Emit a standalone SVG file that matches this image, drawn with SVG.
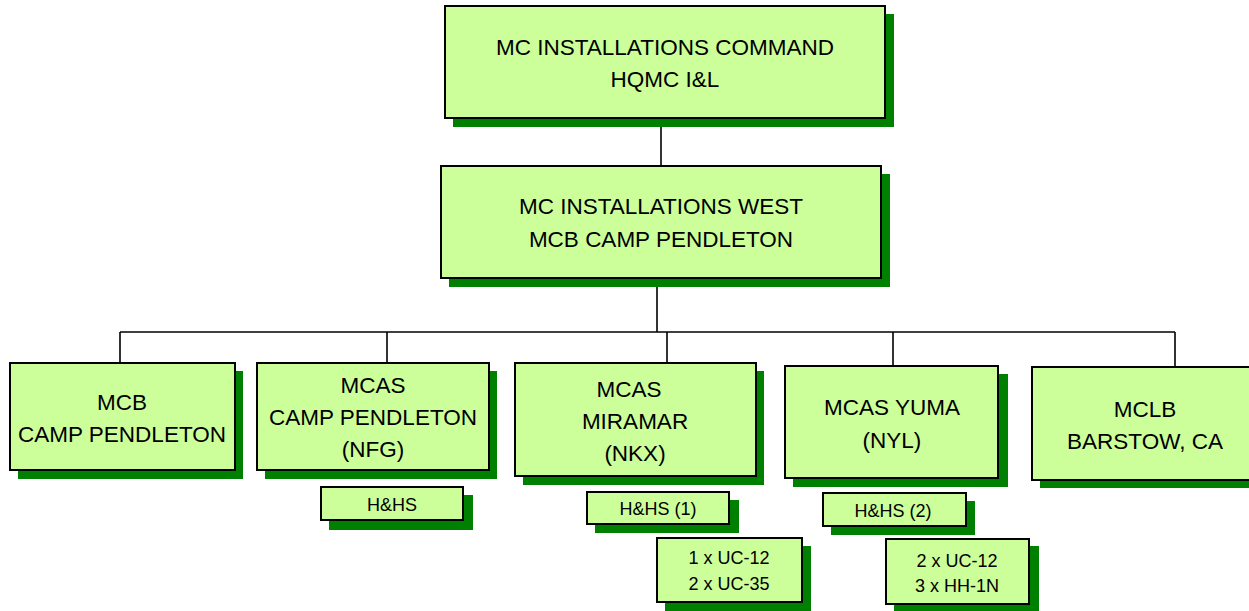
<svg xmlns="http://www.w3.org/2000/svg" width="1249" height="611" viewBox="0 0 1249 611">
<style>
.sh{fill:#008000}
.bx{fill:#CCFF99;stroke:#000;stroke-width:2}
.t{font-family:"Liberation Sans",Arial,sans-serif;font-size:22.5px;fill:#000;text-anchor:middle}
.s{font-family:"Liberation Sans",Arial,sans-serif;font-size:18px;fill:#000;text-anchor:middle}
.ln{stroke:#000;stroke-width:1.6;fill:none}
</style>
<rect width="1249" height="611" fill="#fff"/>
<g id="connectors">
<path class="ln" d="M661 118V166"/>
<path class="ln" d="M657 278V332"/>
<path class="ln" d="M120 332H1175"/>
<path class="ln" d="M120 332V363M387 332V363M667 332V363M893 332V366M1175 332V367"/>
</g>
<g id="n-command">
<rect class="sh" x="453" y="14" width="441" height="113"/>
<rect class="bx" x="445" y="6" width="440" height="112"/>
<text class="t" x="665" y="55">MC INSTALLATIONS COMMAND</text>
<text class="t" x="665" y="87">HQMC I&amp;L</text>
</g>
<g id="n-west">
<rect class="sh" x="449" y="174" width="441" height="113"/>
<rect class="bx" x="441" y="166" width="440" height="112"/>
<text class="t" x="661" y="214">MC INSTALLATIONS WEST</text>
<text class="t" x="661" y="247">MCB CAMP PENDLETON</text>
</g>
<g id="n-mcb">
<rect class="sh" x="18" y="371" width="225" height="108"/>
<rect class="bx" x="10" y="363" width="225" height="107"/>
<text class="t" x="122" y="410">MCB</text>
<text class="t" x="122" y="442">CAMP PENDLETON</text>
</g>
<g id="n-mcas-cp">
<rect class="sh" x="265" y="371" width="232" height="108"/>
<rect class="bx" x="257" y="363" width="232" height="107"/>
<text class="t" x="373" y="393">MCAS</text>
<text class="t" x="373" y="425">CAMP PENDLETON</text>
<text class="t" x="373" y="457">(NFG)</text>
</g>
<g id="n-hhs">
<rect class="sh" x="329" y="495" width="144" height="35"/>
<rect class="bx" x="321" y="487" width="142" height="33"/>
<text class="s" x="392" y="511">H&amp;HS</text>
</g>
<g id="n-miramar">
<rect class="sh" x="523" y="371" width="241" height="114"/>
<rect class="bx" x="515" y="363" width="241" height="113"/>
<text class="t" x="629" y="397">MCAS</text>
<text class="t" x="635" y="429">MIRAMAR</text>
<text class="t" x="635" y="461">(NKX)</text>
</g>
<g id="n-hhs1">
<rect class="sh" x="595" y="500" width="144" height="33"/>
<rect class="bx" x="587" y="492" width="142" height="32"/>
<text class="s" x="658" y="515">H&amp;HS (1)</text>
</g>
<g id="n-miramar-ac">
<rect class="sh" x="665" y="546" width="146" height="65"/>
<rect class="bx" x="657" y="538" width="145" height="64"/>
<text class="s" x="729" y="564">1 x UC-12</text>
<text class="s" x="729" y="590">2 x UC-35</text>
</g>
<g id="n-yuma">
<rect class="sh" x="793" y="374" width="215" height="113"/>
<rect class="bx" x="785" y="366" width="213" height="112"/>
<text class="t" x="892" y="415">MCAS YUMA</text>
<text class="t" x="892" y="448">(NYL)</text>
</g>
<g id="n-hhs2">
<rect class="sh" x="831" y="501" width="144" height="34"/>
<rect class="bx" x="823" y="493" width="143" height="33"/>
<text class="s" x="893" y="517">H&amp;HS (2)</text>
</g>
<g id="n-yuma-ac">
<rect class="sh" x="894" y="546" width="145" height="65"/>
<rect class="bx" x="886" y="539" width="143" height="65"/>
<text class="s" x="957" y="567">2 x UC-12</text>
<text class="s" x="957" y="592">3 x HH-1N</text>
</g>
<g id="n-mclb">
<rect class="sh" x="1040" y="375" width="220" height="113"/>
<rect class="bx" x="1032" y="367" width="230" height="113"/>
<text class="t" x="1145" y="417">MCLB</text>
<text class="t" x="1145" y="449">BARSTOW, CA</text>
</g>
</svg>
